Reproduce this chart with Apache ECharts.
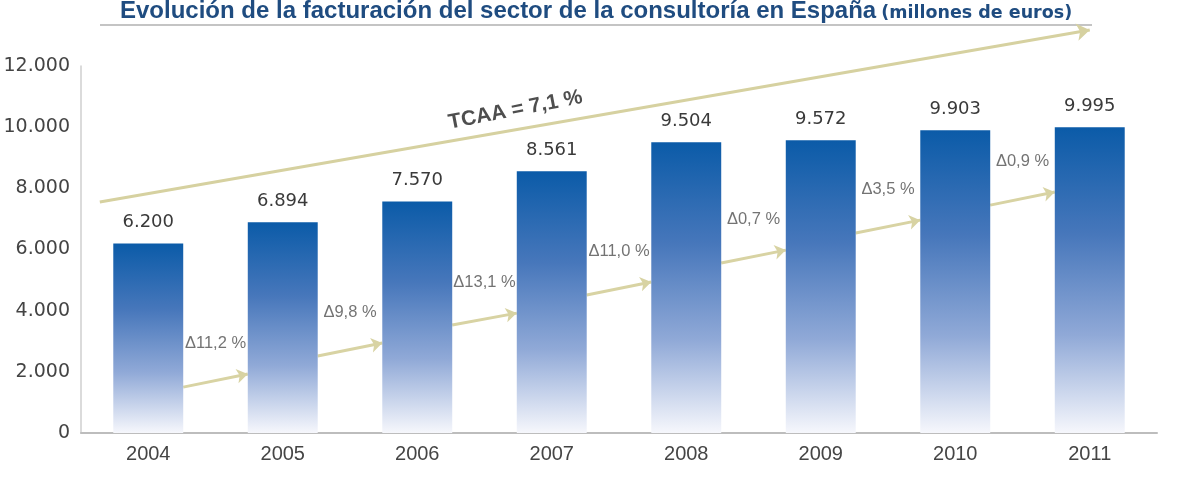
<!DOCTYPE html>
<html>
<head>
<meta charset="utf-8">
<script src="https://cdn.jsdelivr.net/npm/echarts@6/dist/echarts.min.js"></script>
<style>
  html, body { margin: 0; padding: 0; background: #ffffff; }
  #chart { width: 1180px; height: 478px; }
</style>
</head>
<body>
<div id="chart"></div>
<script>
// ---- data ----
const years = ['2004', '2005', '2006', '2007', '2008', '2009', '2010', '2011'];
const revenue = [6200, 6894, 7570, 8561, 9504, 9572, 9903, 9995];
const growthLabels = ['11,2', '9,8', '13,1', '11,0', '0,7', '3,5', '0,9'];
const yTicks = [0, 2000, 4000, 6000, 8000, 10000, 12000];
const cagrLabel = 'TCAA = 7,1 %';
// annotation anchors (in axis units) for the growth arrows and the trend arrow
const growthArrowFrom = [1500, 2520, 3530, 4510, 5560, 6540, 7450];
const growthArrowTo = [1930, 2940, 3920, 4940, 5980, 6960, 7880];
const trendArrow = [[-0.36, 7550], [7.0, 13180]];
const cagrAnchor = [2.73, 10560];

const fmt = v => String(v).replace(/\B(?=(\d{3})+(?!\d))/g, '.');
const barHalf = 0.26;

const arrowData = growthArrowFrom.map((y0, i) => ({
  coords: [[i + barHalf, y0], [i + 1 - barHalf, growthArrowTo[i]]]
}));
const growthLabelData = growthArrowFrom.map((y0, i) => ({
  value: [i + 0.5, (y0 + growthArrowTo[i]) / 2],
  name: '\u0394' + growthLabels[i] + ' %'
}));

const chart = echarts.init(document.getElementById('chart'), null, { renderer: 'canvas' });
chart.setOption({
  backgroundColor: '#ffffff',
  animation: false,
  title: {
    left: 120, top: -1, padding: 0,
    text: '{a|Evolución de la facturación del sector de la consultoría en España} {b|(millones de euros)}',
    textStyle: {
      rich: {
        a: { fontFamily: 'Liberation Sans', fontWeight: 'bold', fontSize: 24, color: '#1f4c80', verticalAlign: 'bottom' },
        b: { fontFamily: 'DejaVu Sans', fontWeight: 'bold', fontSize: 17.5, color: '#1f4c80', verticalAlign: 'bottom', padding: [0, 0, 1, 0] }
      }
    }
  },
  graphic: [{
    type: 'line', silent: true,
    shape: { x1: 100, y1: 25, x2: 1092, y2: 25 },
    style: { stroke: '#c4c4c4', lineWidth: 2 }
  }],
  grid: { left: 81, right: 23, top: 66, bottom: 45, containLabel: false },
  xAxis: [{
    type: 'category', data: years, boundaryGap: true,
    axisLine: { show: true, lineStyle: { color: '#bdbdbd', width: 2 } },
    axisTick: { show: false },
    axisLabel: { margin: 11, fontFamily: 'Liberation Sans', fontSize: 20, color: '#454545' }
  }, {
    type: 'value', min: -0.5, max: 7.5, show: false
  }],
  yAxis: {
    type: 'value', min: 0, max: 12000, interval: 2000,
    axisLine: { show: true, onZero: false, lineStyle: { color: '#cfcfcf', width: 1.5 } },
    axisTick: { show: false },
    splitLine: { show: false },
    axisLabel: {
      margin: 11, fontFamily: 'DejaVu Sans', fontSize: 19, color: '#444444',
      formatter: v => (yTicks.indexOf(v) >= 0 ? fmt(v) : '')
    }
  },
  series: [{
    type: 'bar', data: revenue, barWidth: '52%', xAxisIndex: 0,
    itemStyle: {
      color: new echarts.graphic.LinearGradient(0, 0, 0, 1, [
        { offset: 0, color: '#0b5ba8' },
        { offset: 0.35, color: '#4777bb' },
        { offset: 0.68, color: '#90a9d7' },
        { offset: 1, color: '#f6f7fc' }
      ])
    },
    label: {
      show: true, position: 'top', distance: 12,
      fontFamily: 'DejaVu Sans', fontSize: 18, color: '#3a3a3a',
      formatter: p => fmt(p.value)
    }
  }, {
    type: 'lines', coordinateSystem: 'cartesian2d', xAxisIndex: 1, yAxisIndex: 0,
    clip: false, silent: true,
    symbol: ['none', 'arrow'], symbolSize: 11,
    lineStyle: { color: '#d8d3a3', width: 3, opacity: 1 },
    data: arrowData
  }, {
    type: 'lines', coordinateSystem: 'cartesian2d', xAxisIndex: 1, yAxisIndex: 0,
    clip: false, silent: true,
    symbol: ['none', 'arrow'], symbolSize: 13,
    lineStyle: { color: '#d6d1a0', width: 3, opacity: 1 },
    data: [{ coords: trendArrow }]
  }, {
    type: 'scatter', xAxisIndex: 1, yAxisIndex: 0, silent: true,
    symbolSize: 1, itemStyle: { color: 'rgba(0,0,0,0)' },
    label: {
      show: true, position: 'inside', offset: [0, -37],
      fontFamily: 'Liberation Sans', fontSize: 16.5, color: '#505050',
      formatter: p => p.name
    },
    data: growthLabelData
  }, {
    type: 'scatter', xAxisIndex: 1, yAxisIndex: 0, silent: true,
    symbolSize: 1, itemStyle: { color: 'rgba(0,0,0,0)' },
    label: {
      show: true, position: 'inside', rotate: 11,
      fontFamily: 'Liberation Sans', fontWeight: 'bold', fontSize: 21, color: '#222222',
      formatter: () => cagrLabel
    },
    data: [cagrAnchor]
  }]
});
</script>
</body>
</html>
